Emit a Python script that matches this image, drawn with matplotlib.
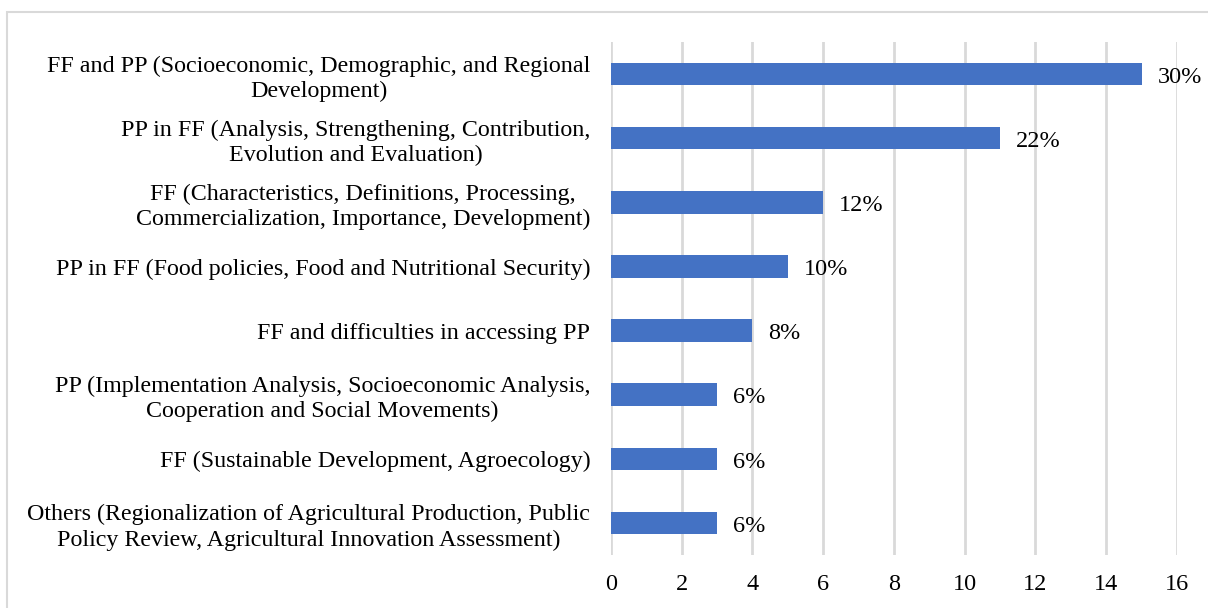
import matplotlib.pyplot as plt
from matplotlib.patches import Rectangle

categories = [
    'FF and PP (Socioeconomic, Demographic, and Regional\nDevelopment)',
    'PP in FF (Analysis, Strengthening, Contribution,\nEvolution and Evaluation)',
    'FF (Characteristics, Definitions, Processing,\nCommercialization, Importance, Development)',
    'PP in FF (Food policies, Food and Nutritional Security)',
    'FF and difficulties in accessing PP',
    'PP (Implementation Analysis, Socioeconomic Analysis,\nCooperation and Social Movements)',
    'FF (Sustainable Development, Agroecology)',
    'Others (Regionalization of Agricultural Production, Public\nPolicy Review, Agricultural Innovation Assessment)',
]
counts = [15, 11, 6, 5, 4, 3, 3, 3]
percent_labels = ['30%', '22%', '12%', '10%', '8%', '6%', '6%', '6%']
x_ticks = [0, 2, 4, 6, 8, 10, 12, 14, 16]

plt.rcParams['font.family'] = ['Liberation Serif', 'DejaVu Serif']
plt.rcParams['font.size'] = 17.3

fig = plt.figure(figsize=(12.08, 6.08), dpi=100)
ax = fig.add_axes([0.5058, 0.0872, 0.4685, 0.8437])

y = list(range(len(categories)))
ax.barh(y, counts, height=0.35, color='#4472C4', zorder=3)
for yi, c, lab in zip(y, counts, percent_labels):
    ax.text(c + 0.45, yi + 0.05, lab, va='center', ha='left', fontsize=17.5)

ax.set_ylim(len(categories) - 0.5, -0.5)
ax.set_xlim(0, 16)
ax.set_xticks(x_ticks)
ax.set_yticks(y)
ax.set_yticklabels(categories, multialignment='center', linespacing=1.25)
ax.tick_params(axis='both', length=0)
ax.tick_params(axis='y', pad=15)
ax.tick_params(axis='x', pad=14, labelsize=17.5)
ax.grid(axis='x', color='#D9D9D9', linewidth=2, zorder=0)
for s in ax.spines.values():
    s.set_visible(False)

fig.patches.append(Rectangle((7 / 1208, -0.1), 1.2, 1 - 12 / 608 + 0.1,
                             transform=fig.transFigure, fill=False,
                             edgecolor='#D9D9D9', linewidth=1.5))

fig.savefig('out.png', dpi=100)
